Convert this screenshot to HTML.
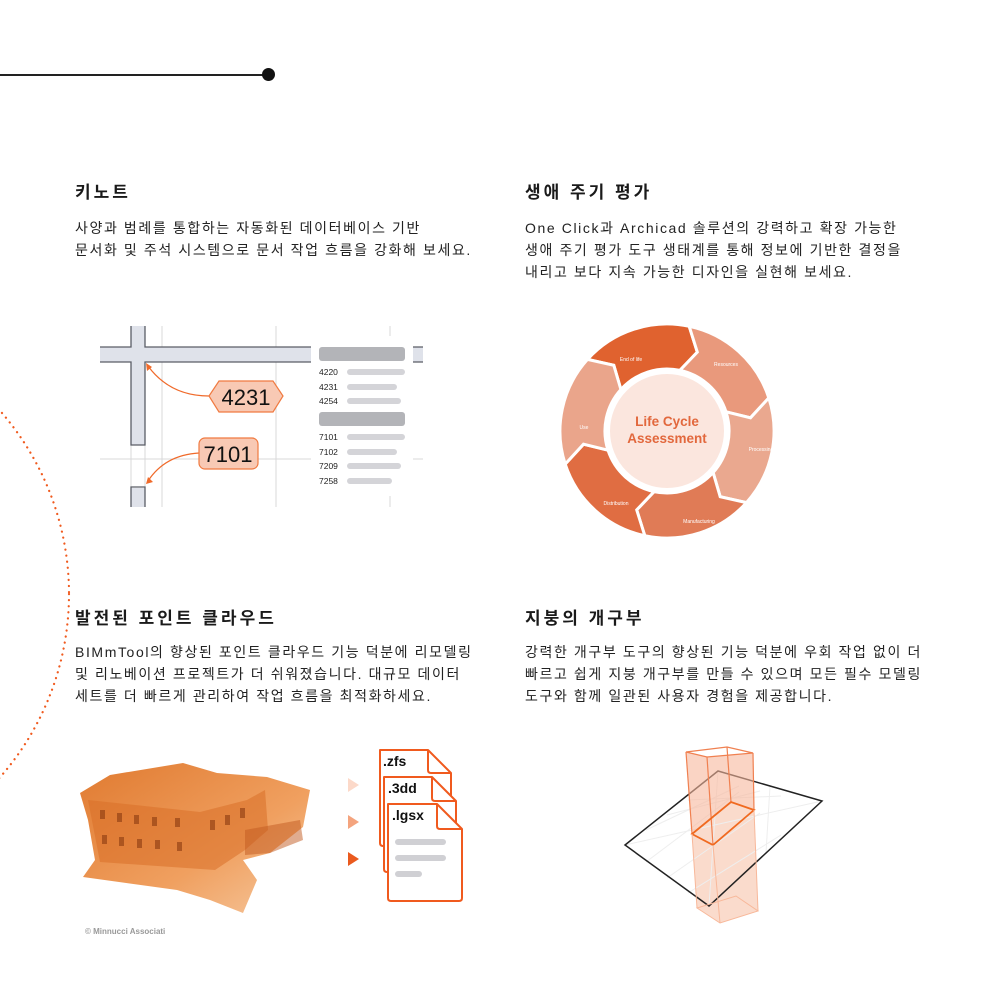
<!DOCTYPE html>
<html><head><meta charset="utf-8"><style>
html,body{margin:0;padding:0;background:#fff}
body{width:1000px;height:1003px;position:relative;overflow:hidden;font-family:"Liberation Sans","Noto Sans CJK KR",sans-serif;color:#1a1a1a}
.h{position:absolute;font-size:17px;font-weight:bold;letter-spacing:3px}
.p{position:absolute;font-size:14px;line-height:22px;letter-spacing:1.6px;color:#222;white-space:nowrap}
svg{position:absolute;left:0;top:0}
</style></head><body>
<div style="position:absolute;left:0;top:74px;width:268px;height:1.5px;background:#222"></div>
<div style="position:absolute;left:262px;top:68px;width:13px;height:13px;border-radius:50%;background:#111"></div>

<div class="h" style="left:75px;top:178px">키노트</div>
<div class="p" style="left:75px;top:217px">사양과 범례를 통합하는 자동화된 데이터베이스 기반<br>문서화 및 주석 시스템으로 문서 작업 흐름을 강화해 보세요.</div>
<div class="h" style="left:525px;top:178px">생애 주기 평가</div>
<div class="p" style="left:525px;top:217px">One Click과 Archicad 솔루션의 강력하고 확장 가능한<br>생애 주기 평가 도구 생태계를 통해 정보에 기반한 결정을<br>내리고 보다 지속 가능한 디자인을 실현해 보세요.</div>
<div class="h" style="left:75px;top:604px">발전된 포인트 클라우드</div>
<div class="p" style="left:75px;top:641px">BIMmTool의 향상된 포인트 클라우드 기능 덕분에 리모델링<br>및 리노베이션 프로젝트가 더 쉬워졌습니다. 대규모 데이터<br>세트를 더 빠르게 관리하여 작업 흐름을 최적화하세요.</div>
<div class="h" style="left:525px;top:604px">지붕의 개구부</div>
<div class="p" style="left:525px;top:641px">강력한 개구부 도구의 향상된 기능 덕분에 우회 작업 없이 더<br>빠르고 쉽게 지붕 개구부를 만들 수 있으며 모든 필수 모델링<br>도구와 함께 일관된 사용자 경험을 제공합니다.</div>

<svg width="1000" height="1003" viewBox="0 0 1000 1003" font-family="Liberation Sans, sans-serif">
<circle cx="-209" cy="594" r="278" fill="none" stroke="#f05a1e" stroke-width="2.2" stroke-dasharray="0.1 6" stroke-linecap="round"/>
<!-- keynote -->
<g stroke="#d8d8da" stroke-width="1">
<line x1="162" y1="326" x2="162" y2="507"/><line x1="276" y1="326" x2="276" y2="507"/>
<line x1="390" y1="326" x2="390" y2="336"/><line x1="390" y1="496" x2="390" y2="507"/>
<line x1="100" y1="459" x2="311" y2="459"/><line x1="413" y1="459" x2="423" y2="459"/>
<line x1="131" y1="445" x2="131" y2="487"/><line x1="145" y1="445" x2="145" y2="487"/>
</g>
<g fill="#dfe2ea">
<rect x="100" y="347" width="211" height="15"/><rect x="131" y="326" width="14" height="119"/>
<rect x="413" y="347" width="10" height="15"/><rect x="131" y="488" width="14" height="19"/>
</g>
<g fill="none" stroke="#5a5d66" stroke-width="1.3">
<path d="M100 347 H131 V326 M145 326 V347 H311 M311 362 H145 V445 H131 V362 H100"/>
<path d="M423 347 H413 M413 362 H423"/>
<path d="M131 507 V487 H145 V507"/>
</g>
<g fill="#b3b4b8"><rect x="319" y="347" width="86" height="14" rx="3"/><rect x="319" y="412" width="86" height="14" rx="3"/></g>
<g fill="#d4d4d8">
<rect x="347" y="369" width="58" height="6" rx="3"/><rect x="347" y="384" width="50" height="6" rx="3"/><rect x="347" y="398" width="54" height="6" rx="3"/>
<rect x="347" y="434" width="58" height="6" rx="3"/><rect x="347" y="449" width="50" height="6" rx="3"/><rect x="347" y="463" width="54" height="6" rx="3"/><rect x="347" y="478" width="45" height="6" rx="3"/>
</g>
<g font-size="8.5" fill="#222"><text x="319" y="375">4220</text><text x="319" y="390">4231</text><text x="319" y="404">4254</text><text x="319" y="440">7101</text><text x="319" y="455">7102</text><text x="319" y="469">7209</text><text x="319" y="484">7258</text></g>
<g fill="none" stroke="#f06a2a" stroke-width="1.2">
<path d="M209 396 Q170 396 148 366"/><path d="M199 453 Q165 455 148 481"/>
</g>
<path d="M146 363 l1 8 l5 -4z M146 484 l7 -2 l-5 -5z" fill="#f06a2a"/>
<path d="M209 396 L219 381 H273 L283 396 L273 412 H219Z" fill="#f8c9b4" stroke="#f07a40" stroke-width="1.2"/>
<text x="246" y="405" font-size="22" text-anchor="middle" fill="#111">4231</text>
<rect x="199" y="438" width="59" height="31" rx="6" fill="#f8c9b4" stroke="#f07a40" stroke-width="1.2"/>
<text x="228" y="462" font-size="22" text-anchor="middle" fill="#111">7101</text>

<!-- LCA ring -->
<g id="ring"></g>
<circle cx="667" cy="431" r="60" fill="#fbe6de" stroke="#fff" stroke-width="6"/>
<text x="667" y="426" font-size="13.5" font-weight="bold" fill="#e2683d" text-anchor="middle">Life Cycle</text>
<text x="667" y="443" font-size="13.5" font-weight="bold" fill="#e2683d" text-anchor="middle">Assessment</text>
<g font-size="5" fill="#fff" text-anchor="middle">
<text x="631" y="361">End of life</text><text x="726" y="366">Resources</text><text x="761" y="451">Processing</text>
<text x="699" y="523">Manufacturing</text><text x="616" y="505">Distribution</text><text x="584" y="429">Use</text>
</g>

<!-- point cloud -->
<defs><linearGradient id="bg" x1="0" y1="0" x2="1" y2="1"><stop offset="0" stop-color="#e07a30"/><stop offset="0.6" stop-color="#f0a060"/><stop offset="1" stop-color="#f6c9a0"/></linearGradient></defs>
<path d="M80 793 L110 775 L183 763 L217 773 L267 777 L310 790 L303 827 L270 853 L243 860 L257 880 L243 913 L210 900 L177 890 L83 877 L95 860 L88 820Z" fill="url(#bg)"/>
<path d="M88 800 L200 812 L247 800 L265 790 L268 830 L245 850 L215 870 L100 862Z" fill="#d97028" opacity="0.55"/>
<g fill="#8a3a10" opacity="0.6">
<rect x="100" y="810" width="5" height="9"/><rect x="117" y="813" width="5" height="9"/><rect x="134" y="815" width="5" height="9"/><rect x="152" y="817" width="5" height="9"/><rect x="175" y="818" width="5" height="9"/>
<rect x="102" y="835" width="5" height="9"/><rect x="119" y="837" width="5" height="9"/><rect x="137" y="839" width="5" height="9"/><rect x="155" y="840" width="5" height="9"/><rect x="177" y="842" width="5" height="9"/>
<rect x="210" y="820" width="5" height="10"/><rect x="225" y="815" width="5" height="10"/><rect x="240" y="808" width="5" height="10"/>
</g>
<path d="M245 830 L300 820 L303 840 L270 853 L245 855Z" fill="#c25a20" opacity="0.5"/>
<text x="85" y="934" font-size="8" fill="#999" font-weight="bold">© Minnucci Associati</text>

<!-- files -->
<path d="M348 778 l11 7 l-11 7z" fill="#fcd9c9"/><path d="M348 815 l11 7 l-11 7z" fill="#f4a47e"/><path d="M348 852 l11 7 l-11 7z" fill="#ea5a1e"/>
<g fill="#fff" stroke="#f05a1e" stroke-width="2" stroke-linejoin="round">
<path d="M380 750 H428 L451 773 V843 Q451 846 448 846 H383 Q380 846 380 843Z"/><path d="M428 750 V770 Q428 773 431 773 H451" fill="none"/>
<path d="M384 777 H432 L456 801 V869 Q456 872 453 872 H387 Q384 872 384 869Z"/><path d="M432 777 V798 Q432 801 435 801 H456" fill="none"/>
<path d="M388 804 H437 L462 829 V898 Q462 901 459 901 H391 Q388 901 388 898Z"/><path d="M437 804 V826 Q437 829 440 829 H462" fill="none"/>
</g>
<g font-size="14" font-weight="bold" fill="#111"><text x="383" y="766">.zfs</text><text x="388" y="793">.3dd</text><text x="392" y="820">.lgsx</text></g>
<g fill="#d0d0d4"><rect x="395" y="839" width="51" height="6" rx="3"/><rect x="395" y="855" width="51" height="6" rx="3"/><rect x="395" y="871" width="27" height="6" rx="3"/></g>

<!-- roof opening -->
<path d="M697 908 L720 923 L758 911 L754 810 L731 802 L692 834Z" fill="#f9d2bf" opacity="0.8"/>
<g stroke="#eee" stroke-width="1">
<line x1="646" y1="830" x2="739" y2="786"/><line x1="667" y1="815" x2="760" y2="791"/><line x1="688" y1="800" x2="781" y2="796"/>
<line x1="646" y1="862" x2="739" y2="792"/><line x1="667" y1="878" x2="760" y2="813"/><line x1="688" y1="893" x2="781" y2="835"/>
<line x1="718" y1="771" x2="709" y2="906"/><line x1="770" y1="786" x2="766" y2="853"/>
<line x1="625" y1="845" x2="822" y2="801"/>
</g>
<path d="M718 771 L822 801 L709 906 L625 845Z" fill="none" stroke="#222" stroke-width="1.5"/>
<path d="M686 752 L707 757 L753 753 L754 810 L731 802 L692 834Z" fill="#f6b89c" opacity="0.6"/>
<g fill="none" stroke="#f08050" stroke-width="1.2">
<path d="M686 752 L707 757 L753 753 L727 747Z"/><line x1="686" y1="752" x2="692" y2="834"/><line x1="707" y1="757" x2="713" y2="845"/><line x1="753" y1="753" x2="754" y2="810"/><line x1="727" y1="747" x2="731" y2="802"/>
</g>
<path d="M692 834 L713 845 L754 810 L731 802Z" fill="none" stroke="#f06a20" stroke-width="1.8"/>
<g fill="none" stroke="#f8b89a" stroke-width="1"><path d="M697 908 L720 923 L758 911 L736 896Z"/><line x1="713" y1="845" x2="720" y2="923"/><line x1="754" y1="810" x2="758" y2="911"/><line x1="692" y1="834" x2="697" y2="908"/></g>
</svg>
<script>
(function(){
var cx=667,cy=431,R=107,r=62,m=(R+r)/2;
var cols=["#e0622f","#e9997c","#eaa88f","#e07b56","#e06d42","#eaa58b"];
function P(a,rad){a=(a-90)*Math.PI/180;return (cx+rad*Math.cos(a)).toFixed(1)+" "+(cy+rad*Math.sin(a)).toFixed(1);}
var s="";
for(var i=0;i<6;i++){var a=-48+60*i,b=a+60,t=9;
s+='<path d="M'+P(a,R)+' A'+R+' '+R+' 0 0 1 '+P(b,R)+' L'+P(b+t,m)+' L'+P(b,r)+' A'+r+' '+r+' 0 0 0 '+P(a,r)+' L'+P(a+t,m)+'Z" fill="'+cols[i]+'" stroke="#fff" stroke-width="3" stroke-linejoin="miter"/>';}
document.getElementById("ring").innerHTML=s;
})();
</script>
</body></html>
